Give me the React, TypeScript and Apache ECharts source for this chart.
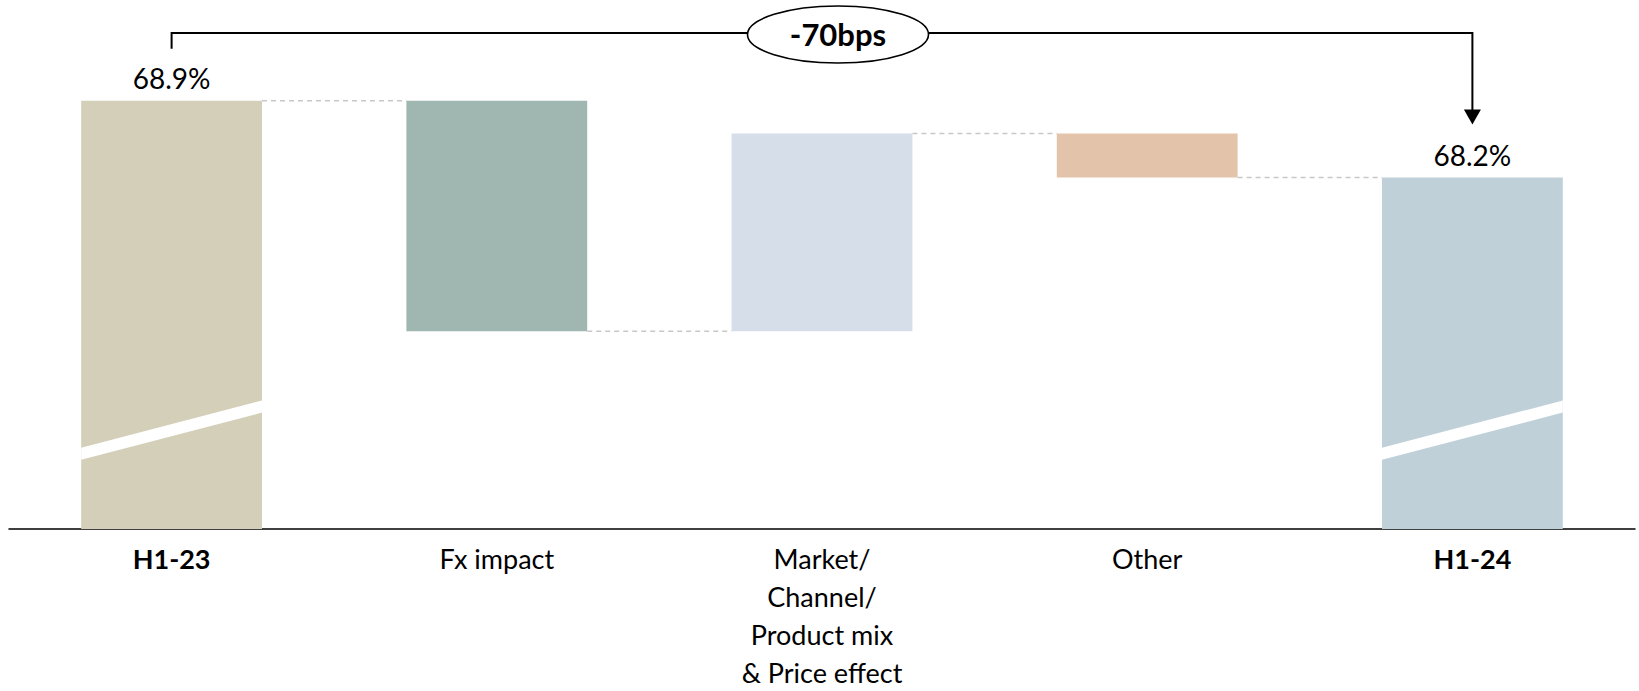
import React, { useEffect, useRef } from 'react';
import * as echarts from 'echarts';

const categories = ['H1-23', 'Fx impact', 'Market/\nChannel/\nProduct mix\n& Price effect', 'Other', 'H1-24'];
const isTotal = [true, false, false, false, true];
const values = [68.9, -2.1, 1.8, -0.4, 68.2];
const barColors = ['#D4CFB9', '#9FB7B0', '#D6DEEA', '#E3C3A9', '#BFD0D9'];
const valueLabels = ['68.9%', '', '', '', '68.2%'];
const changeLabel = '-70bps';
const axisMin = 65;
const axisMax = 69.5;
// axis-break stripe edges (value at left edge, value at right edge)
const breakHigh = [65.74, 66.17];
const breakLow = [65.63, 66.06];

const FONT = 'Lato';
const BAR_FRAC = 0.556;

const r2 = (x: number) => Math.round(x * 1000) / 1000;

function buildWaterfall() {
  const base: number[] = [];
  const height: number[] = [];
  const levels: number[] = [];
  let running = 0;
  values.forEach((v, i) => {
    if (isTotal[i]) {
      base.push(0);
      height.push(v);
      running = v;
    } else {
      const end = r2(running + v);
      base.push(r2(Math.min(running, end)));
      height.push(r2(Math.abs(v)));
      running = end;
    }
    levels.push(running);
  });
  return { base, height, levels };
}

export default function App() {
  const ref = useRef<HTMLDivElement>(null);

  useEffect(() => {
    if (!ref.current) return;
    const chart = echarts.init(ref.current, null, { renderer: 'svg' });
    const { base, height, levels } = buildWaterfall();

    const connectorData = levels.slice(0, levels.length - 1).map((lv, i) => [i, lv]);
    const breakData = isTotal.map((t, i) => (t ? [i] : null)).filter((d) => d !== null);

    chart.setOption({
      animation: false,
      textStyle: { fontFamily: FONT },
      grid: { left: 9, right: 4, top: 34.75, bottom: 159, containLabel: false },
      xAxis: {
        type: 'category',
        data: categories.map((c, i) => ({
          value: c,
          textStyle: { fontWeight: isTotal[i] ? 'bold' : 'normal' },
        })),
        axisLine: { lineStyle: { color: '#000', width: 1.5 } },
        axisTick: { show: false },
        axisLabel: {
          color: '#000',
          fontSize: 27,
          fontFamily: FONT,
          lineHeight: 38,
          margin: 10,
          interval: 0,
        },
      },
      yAxis: {
        type: 'value',
        min: axisMin,
        max: axisMax,
        show: false,
        splitLine: { show: false },
      },
      series: [
        {
          type: 'bar',
          stack: 'wf',
          barWidth: BAR_FRAC * 100 + '%',
          data: base,
          itemStyle: { color: 'transparent' },
          silent: true,
        },
        {
          type: 'bar',
          stack: 'wf',
          barWidth: BAR_FRAC * 100 + '%',
          data: height.map((h, i) => ({
            value: h,
            itemStyle: { color: barColors[i] },
            label: {
              show: valueLabels[i] !== '',
              position: 'top',
              distance: 9,
              formatter: valueLabels[i],
              color: '#000',
              fontSize: 28,
              fontFamily: FONT,
            },
          })),
        },
        {
          type: 'custom',
          z: 5,
          data: breakData,
          renderItem: (params: any, api: any) => {
            const idx = api.value(0);
            const cx = api.coord([idx, axisMin])[0];
            const half = (api.size([1, 0])[0] * BAR_FRAC) / 2;
            const yv = (v: number) => api.coord([idx, v])[1];
            return {
              type: 'polygon',
              shape: {
                points: [
                  [cx - half, yv(breakHigh[0])],
                  [cx + half, yv(breakHigh[1])],
                  [cx + half, yv(breakLow[1])],
                  [cx - half, yv(breakLow[0])],
                ],
              },
              style: { fill: '#FFFFFF' },
            };
          },
        },
        {
          type: 'custom',
          z: 1,
          data: connectorData,
          renderItem: (params: any, api: any) => {
            const idx = api.value(0);
            const lv = api.value(1);
            const p = api.coord([idx, lv]);
            const bw = api.size([1, 0])[0];
            const half = (bw * BAR_FRAC) / 2;
            return {
              type: 'line',
              shape: { x1: p[0] + half, y1: p[1], x2: p[0] + bw - half, y2: p[1] },
              style: { stroke: '#C8C8C8', lineWidth: 1.5, lineDash: [5, 4] },
            };
          },
        },
      ],
    });

    // Bracket annotation placed from the chart's own coordinates
    const first = chart.convertToPixel({ gridIndex: 0 }, [0, values[0]]) as number[];
    const lastIdx = values.length - 1;
    const last = chart.convertToPixel({ gridIndex: 0 }, [lastIdx, values[lastIdx]]) as number[];
    const yTop = 33;
    const xL = first[0];
    const xR = last[0];
    const leftBottom = first[1] - 52;
    const arrowTip = last[1] - 53;
    const ellCx = 838;
    const ellCy = 34.5;

    chart.setOption({
      graphic: [
        {
          type: 'polyline',
          shape: { points: [[xL, leftBottom], [xL, yTop], [xR, yTop], [xR, arrowTip - 14]] },
          style: { stroke: '#000', lineWidth: 2, fill: null },
          z: 10,
        },
        {
          type: 'polygon',
          shape: { points: [[xR - 8.5, arrowTip - 15], [xR + 8.5, arrowTip - 15], [xR, arrowTip]] },
          style: { fill: '#000' },
          z: 10,
        },
        {
          type: 'ellipse',
          shape: { cx: ellCx, cy: ellCy, rx: 90.5, ry: 28.5 },
          style: { fill: '#FFFFFF', stroke: '#000', lineWidth: 1.6 },
          z: 11,
        },
        {
          type: 'text',
          x: ellCx,
          y: ellCy - 1,
          style: {
            text: changeLabel,
            fill: '#000',
            font: 'bold 31px ' + FONT,
            align: 'center',
            verticalAlign: 'middle',
          },
          z: 12,
        },
      ],
    });

    return () => {
      chart.dispose();
    };
  }, []);

  return (
    <div
      ref={ref}
      style={{ position: 'absolute', left: 0, top: 0, width: 1639, height: 691, background: '#fff' }}
    />
  );
}
